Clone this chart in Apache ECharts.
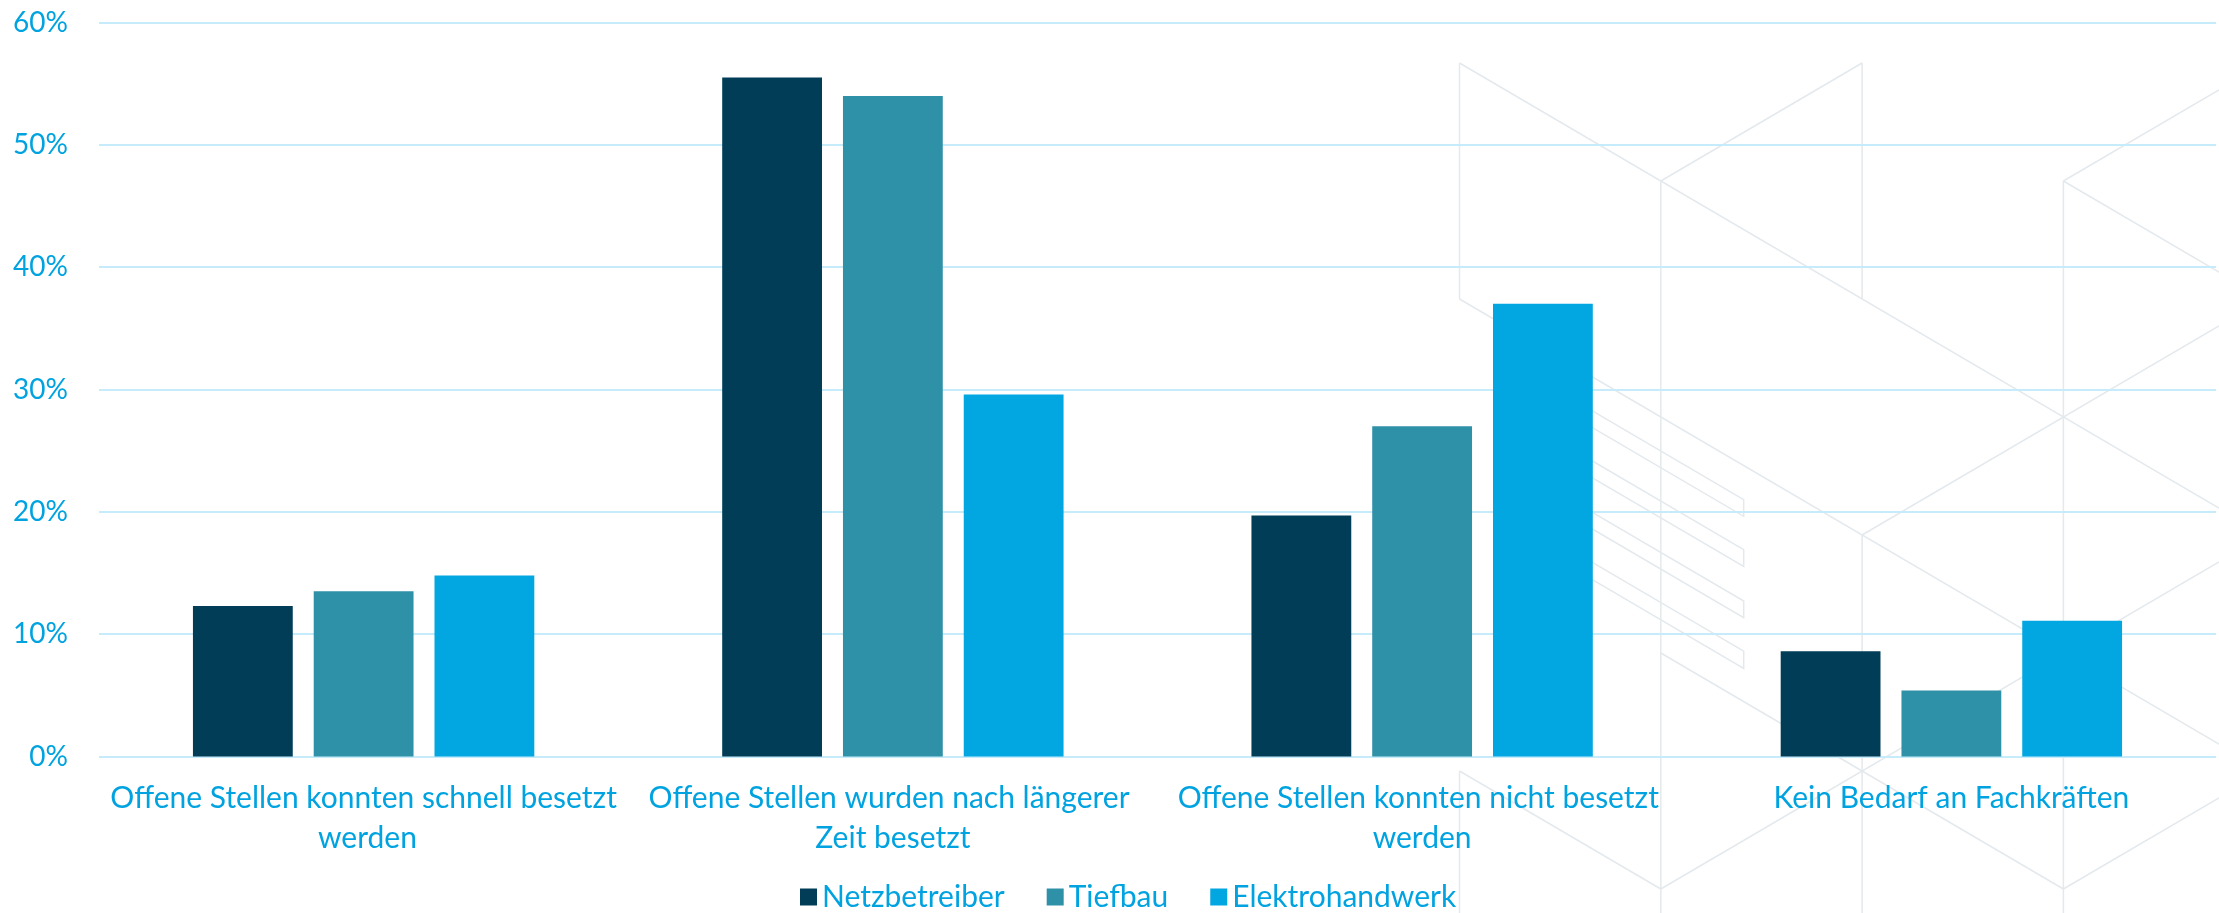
<!DOCTYPE html>
<html>
<head>
<meta charset="utf-8">
<script src="https://cdn.jsdelivr.net/npm/echarts@6/dist/echarts.min.js"></script>
<style>
  html, body { margin: 0; padding: 0; background: #ffffff; }
  #chart { width: 2219px; height: 913px; }
</style>
</head>
<body>
<div id="chart"></div>
<script>
const categories = [
  "Offene Stellen konnten schnell besetzt werden",
  "Offene Stellen wurden nach längerer Zeit besetzt",
  "Offene Stellen konnten nicht besetzt werden",
  "Kein Bedarf an Fachkräften"
];
const seriesNames = ["Netzbetreiber", "Tiefbau", "Elektrohandwerk"];
const netzbetreiber = [12.3, 55.5, 19.7, 8.6];
const tiefbau = [13.5, 54.0, 27.0, 5.4];
const elektrohandwerk = [14.8, 29.6, 37.0, 11.1];
const yTicks = { min: 0, max: 60, interval: 10 };

const colors = ["#023D58", "#2E91A7", "#02A7E1"];
const textColor = "#00A3E0";
const font = "Lato";

// decorative isometric background pattern (not data)
const deco = (function () {
  const X0 = 1459.5, DX = 201.3, Y0 = 63, DY = 118, W = 2219, H = 913;
  const P = (c, k) => [X0 + DX * c, Y0 + DY * k];
  const cEdge = (W - X0) / DX;
  const lines = [
    [P(0, 0), P(0, 2)],
    [P(0, 6), [X0, H]],
    [P(0, 0), P(cEdge, cEdge)],
    [P(2, 0), P(1, 1)],
    [P(1, 1), [X0 + DX, H]],
    [P(2, 0), P(2, 2)],
    [P(2, 4), [X0 + 2 * DX, H]],
    [P(3, 1), [X0 + 3 * DX, H]],
    [P(3, 1), P(cEdge, 1 - (cEdge - 3))],
    [P(3, 1), P(cEdge, 1 + (cEdge - 3))],
    [P(cEdge, 4 - (cEdge - 2)), P(2, 4)],
    [P(0, 2), P(cEdge, 2 + cEdge)],
    [P(0, 6), P(1, 7)],
    [P(1, 7), P(cEdge, 7 - (cEdge - 1))],
    [P(1, 5), P(3, 7)],
    [P(3, 7), P(cEdge, 7 - (cEdge - 3))]
  ];
  // hatch stripes ending at x = 1743.7
  const xe = 1743.7, xs = 1560, slope = DY / DX;
  const ends = [[499.6, 516.3], [549.7, 566.5], [601, 617.7], [651.1, 668.4]];
  ends.forEach(([a, b]) => {
    lines.push([[xs, a - (xe - xs) * slope], [xe, a], [xe, b], [xs, b - (xe - xs) * slope]]);
  });
  return lines.map(pts => ({
    type: "polyline",
    silent: true,
    z: -100,
    shape: { points: pts },
    style: { stroke: "#E4E9ED", lineWidth: 1.5, fill: null }
  }));
})();

const chart = echarts.init(document.getElementById("chart"), null, { renderer: "canvas" });

const values = [netzbetreiber, tiefbau, elektrohandwerk];

chart.setOption({
  animation: false,
  backgroundColor: "#ffffff",
  color: colors,
  graphic: { elements: deco },
  grid: { left: 99, right: 3, top: 22.5, bottom: 156.5, containLabel: false },
  legend: {
    data: seriesNames,
    top: 877,
    left: 795,
    icon: "rect",
    itemWidth: 17,
    itemHeight: 17,
    itemGap: 42,
    textStyle: { color: textColor, fontFamily: font, fontSize: 30 }
  },
  xAxis: {
    type: "category",
    data: categories,
    axisLine: { show: false },
    axisTick: { show: false },
    axisLabel: {
      color: textColor,
      fontFamily: font,
      fontSize: 30,
      lineHeight: 40,
      margin: 22,
      interval: 0,
      width: 515,
      overflow: "break",
      align: "center"
    }
  },
  yAxis: {
    type: "value",
    min: yTicks.min,
    max: yTicks.max,
    interval: yTicks.interval,
    axisLine: { show: false },
    axisTick: { show: false },
    axisLabel: {
      color: textColor,
      fontFamily: font,
      fontSize: 28,
      margin: 31,
      formatter: "{value}%"
    },
    splitLine: { lineStyle: { color: "#C6EBFA", width: 2 } }
  },
  series: seriesNames.map((name, i) => ({
    name: name,
    type: "bar",
    data: values[i],
    barGap: "21%",
    barCategoryGap: "35.5%",
    itemStyle: { color: colors[i] }
  }))
});
</script>
</body>
</html>
